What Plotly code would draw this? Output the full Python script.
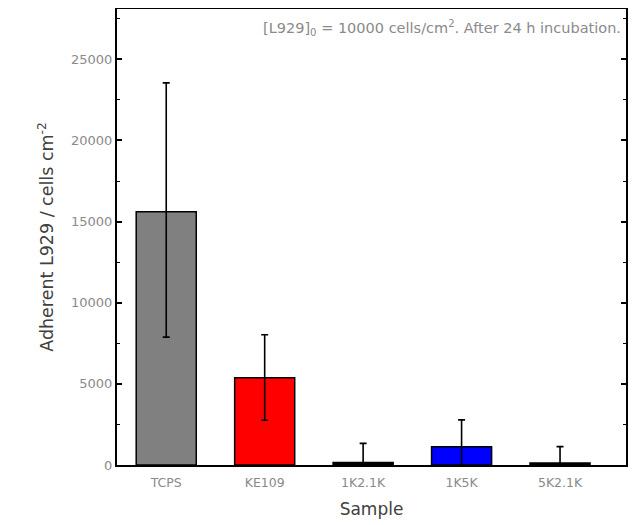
import plotly.graph_objects as go

samples = ["TCPS", "KE109", "1K2.1K", "1K5K", "5K2.1K"]
adherent = [15600, 5380, 150, 1130, 120]
err_plus = [7950, 2650, 1180, 1650, 1010]
err_minus = [7720, 2620, 150, 1130, 120]
bar_colors = ["#808080", "#ff0000", "#000000", "#0000ff", "#000000"]
y_ticks = [0, 5000, 10000, 15000, 20000, 25000]
y_ticklabels = ["0", "5000", "10000", "15000", "20000", "25000"]

FONT = "DejaVu Sans, Liberation Sans, Arial, sans-serif"

fig = go.Figure()
fig.add_trace(go.Bar(
    x=samples, y=adherent,
    marker=dict(color=bar_colors, line=dict(color="black", width=1.5)),
    width=0.61,
    error_y=dict(type="data", array=err_plus, arrayminus=err_minus,
                 color="black", thickness=1.6, width=3.5),
))

fig.update_layout(
    width=631, height=517,
    margin=dict(l=109, r=13, t=1, b=60, autoexpand=False),
    plot_bgcolor="white", paper_bgcolor="white",
    font=dict(family=FONT, color="#333333"),
    showlegend=False,
)
fig.update_xaxes(
    range=[-0.5, 4.67], automargin=False,
    showline=True, linecolor="black", linewidth=2, mirror=True,
    ticks="", tickfont=dict(size=12.5, color="#8a8a8a"), ticklabelstandoff=5,
    title=dict(text="Sample", font=dict(size=17, color="#404040"), standoff=14),
    showgrid=False,
)
fig.update_yaxes(
    range=[0, 28100], automargin=False,
    tickvals=y_ticks, ticktext=y_ticklabels,
    showline=True, linecolor="black", linewidth=2, mirror="ticks",
    ticks="inside", ticklen=5, tickwidth=1.5, tickcolor="black",
    minor=dict(ticks="inside", ticklen=3, tickwidth=1.2, tickcolor="black", dtick=2500, showgrid=False),
    tickfont=dict(size=13, color="#8a8a8a"),
    title=dict(text="Adherent L929 / cells cm<sup>-2</sup>", font=dict(size=17.5, color="#404040"), standoff=13),
    showgrid=False, zeroline=False,
)
fig.add_annotation(
    x=1, y=1, xref="paper", yref="paper", xanchor="right", yanchor="top",
    xshift=-3, yshift=-7,
    text="[L929]<sub>0</sub> = 10000 cells/cm<sup>2</sup>. After 24 h incubation.",
    showarrow=False, font=dict(size=14.5, color="#8a8a8a"),
)

fig.write_html("out.html")
